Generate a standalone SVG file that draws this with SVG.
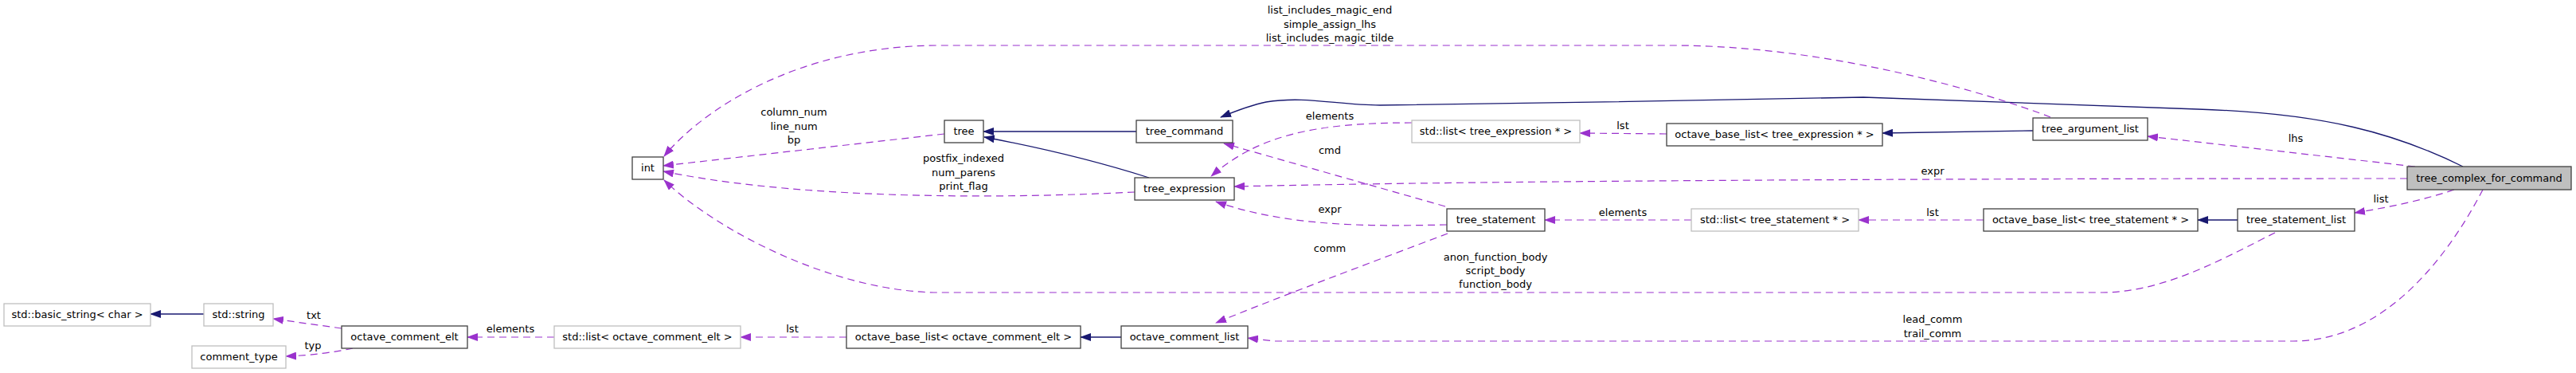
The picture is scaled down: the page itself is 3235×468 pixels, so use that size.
<svg xmlns="http://www.w3.org/2000/svg" width="3235" height="468" viewBox="0 0 3235 468">
<style>
text{font-family:"DejaVu Sans","Liberation Sans",sans-serif;font-size:13px;fill:#000}
.n text{text-anchor:middle}
.b{fill:#fff;stroke:#404040;stroke-width:1.3}
.g{fill:#fff;stroke:#bfbfbf;stroke-width:1.3}
.m{fill:#bfbfbf;stroke:#404040;stroke-width:1.3}
.s{fill:none;stroke:#191970;stroke-width:1.3;marker-end:url(#an)}
.d{fill:none;stroke:#9a32cd;stroke-width:1.2;stroke-dasharray:9,6;marker-end:url(#ap)}
.l{text-anchor:middle}
</style>
<defs>
<marker id="an" markerUnits="userSpaceOnUse" markerWidth="14" markerHeight="10" viewBox="0 0 14 10" refX="13" refY="5" orient="auto"><path d="M0,0 L14,5 L0,10 z" fill="#191970"/></marker>
<marker id="ap" markerUnits="userSpaceOnUse" markerWidth="14" markerHeight="10" viewBox="0 0 14 10" refX="13" refY="5" orient="auto"><path d="M0,0 L14,5 L0,10 z" fill="#9a32cd"/></marker>
</defs>
<rect width="3235" height="468" fill="#fff"/>
<g id="connectors">
<path class="s" d="M256,394 L189,394"/>
<path class="s" d="M1408,423 L1357,423"/>
<path class="s" d="M1427,165 L1235,165"/>
<path class="s" d="M1443,223 C1380,203 1300,184 1236,172"/>
<path class="s" d="M3093,209 C3010,168 2920,142 2760,137 L2340,122 C2200,125 1900,130 1733,132 C1680,132 1640,120 1590,128 C1570,132 1550,140 1533,147"/>
<path class="s" d="M2553,164 L2364,167"/>
<path class="s" d="M2810,276 L2760,276"/>
<path class="d" d="M429,412 L343,400"/>
<path class="d" d="M443,437 C420,442 390,446 359,447"/>
<path class="d" d="M696,423 L587,423"/>
<path class="d" d="M1063,423 L930,423"/>
<path class="d" d="M1818,293 C1720,330 1600,375 1527,405"/>
<path class="d" d="M3118,238 C3070,330 2990,428 2880,428 L1600,428 L1567,424"/>
<path class="d" d="M3023,224 C2500,224 1900,226 1550,234"/>
<path class="d" d="M3033,209 L2697,171"/>
<path class="d" d="M3082,238 C3040,252 3000,260 2957,267"/>
<path class="d" d="M2093,168 L1984,167"/>
<path class="d" d="M1773,154 C1650,154 1580,170 1521,221"/>
<path class="d" d="M2575,147 C2500,118 2300,57 2100,57 L1180,57 C1000,57 880,140 834,196"/>
<path class="d" d="M1815,259 L1537,180"/>
<path class="d" d="M1817,282 C1720,284 1620,285 1527,253"/>
<path class="d" d="M2124,276 L1940,276"/>
<path class="d" d="M2491,276 L2334,276"/>
<path class="d" d="M2857,292 C2800,320 2720,367 2640,367 L1180,367 C1050,367 900,290 834,226"/>
<path class="d" d="M1186,168 L833,208"/>
<path class="d" d="M1425,241 C1200,252 980,245 833,215"/>
<text class="l" x="394" y="400">txt</text>
<text class="l" x="393" y="438">typ</text>
<text class="l" x="641" y="417">elements</text>
<text class="l" x="995" y="417">lst</text>
<text class="l" x="997" y="145">column_num</text>
<text class="l" x="997" y="163">line_num</text>
<text class="l" x="997" y="180">bp</text>
<text class="l" x="1210" y="203">postfix_indexed</text>
<text class="l" x="1210" y="221">num_parens</text>
<text class="l" x="1210" y="238">print_flag</text>
<text class="l" x="1670" y="17">list_includes_magic_end</text>
<text class="l" x="1670" y="35">simple_assign_lhs</text>
<text class="l" x="1670" y="52">list_includes_magic_tilde</text>
<text class="l" x="1670" y="150">elements</text>
<text class="l" x="1670" y="193">cmd</text>
<text class="l" x="1670" y="267">expr</text>
<text class="l" x="1670" y="316">comm</text>
<text class="l" x="2038" y="162">lst</text>
<text class="l" x="2038" y="271">elements</text>
<text class="l" x="1878" y="327">anon_function_body</text>
<text class="l" x="1878" y="344">script_body</text>
<text class="l" x="1878" y="361">function_body</text>
<text class="l" x="2427" y="219">expr</text>
<text class="l" x="2427" y="271">lst</text>
<text class="l" x="2427" y="405">lead_comm</text>
<text class="l" x="2427" y="423">trail_comm</text>
<text class="l" x="2883" y="178">lhs</text>
<text class="l" x="2990" y="254">list</text>
</g>
<g class="n" id="basic_string"><rect class="g" x="5" y="381" width="184" height="28"/><text x="97" y="399">std::basic_string&lt; char &gt;</text></g>
<g class="n" id="std_string"><rect class="g" x="256" y="381" width="87" height="28"/><text x="299.5" y="399">std::string</text></g>
<g class="n" id="comment_type"><rect class="g" x="241" y="434" width="118" height="28"/><text x="300" y="452">comment_type</text></g>
<g class="n" id="octave_comment_elt"><rect class="b" x="429" y="409" width="158" height="28"/><text x="508" y="427">octave_comment_elt</text></g>
<g class="n" id="list_oce"><rect class="g" x="696" y="409" width="234" height="28"/><text x="813" y="427">std::list&lt; octave_comment_elt &gt;</text></g>
<g class="n" id="base_list_oce"><rect class="b" x="1063" y="409" width="294" height="28"/><text x="1210" y="427">octave_base_list&lt; octave_comment_elt &gt;</text></g>
<g class="n" id="octave_comment_list"><rect class="b" x="1408" y="409" width="159" height="28"/><text x="1487.5" y="427">octave_comment_list</text></g>
<g class="n" id="int"><rect class="b" x="794" y="197" width="39" height="28"/><text x="813.5" y="215">int</text></g>
<g class="n" id="tree"><rect class="b" x="1186" y="151" width="49" height="28"/><text x="1210.5" y="169">tree</text></g>
<g class="n" id="tree_command"><rect class="b" x="1427" y="151" width="121" height="28"/><text x="1487.5" y="169">tree_command</text></g>
<g class="n" id="tree_expression"><rect class="b" x="1425" y="223" width="125" height="28"/><text x="1487.5" y="241">tree_expression</text></g>
<g class="n" id="list_te"><rect class="g" x="1773" y="151" width="211" height="28"/><text x="1878.5" y="169">std::list&lt; tree_expression * &gt;</text></g>
<g class="n" id="base_list_te"><rect class="b" x="2093" y="155" width="271" height="28"/><text x="2228.5" y="173">octave_base_list&lt; tree_expression * &gt;</text></g>
<g class="n" id="tree_argument_list"><rect class="b" x="2553" y="148" width="144" height="28"/><text x="2625" y="166">tree_argument_list</text></g>
<g class="n" id="tree_statement"><rect class="b" x="1817" y="262" width="123" height="28"/><text x="1878.5" y="280">tree_statement</text></g>
<g class="n" id="list_ts"><rect class="g" x="2124" y="262" width="210" height="28"/><text x="2229" y="280">std::list&lt; tree_statement * &gt;</text></g>
<g class="n" id="base_list_ts"><rect class="b" x="2491" y="262" width="269" height="28"/><text x="2625.5" y="280">octave_base_list&lt; tree_statement * &gt;</text></g>
<g class="n" id="tree_statement_list"><rect class="b" x="2810" y="262" width="147" height="28"/><text x="2883.5" y="280">tree_statement_list</text></g>
<g class="n" id="tree_complex_for_command"><rect class="m" x="3023" y="209" width="206" height="29"/><text x="3126" y="228">tree_complex_for_command</text></g>
</svg>
